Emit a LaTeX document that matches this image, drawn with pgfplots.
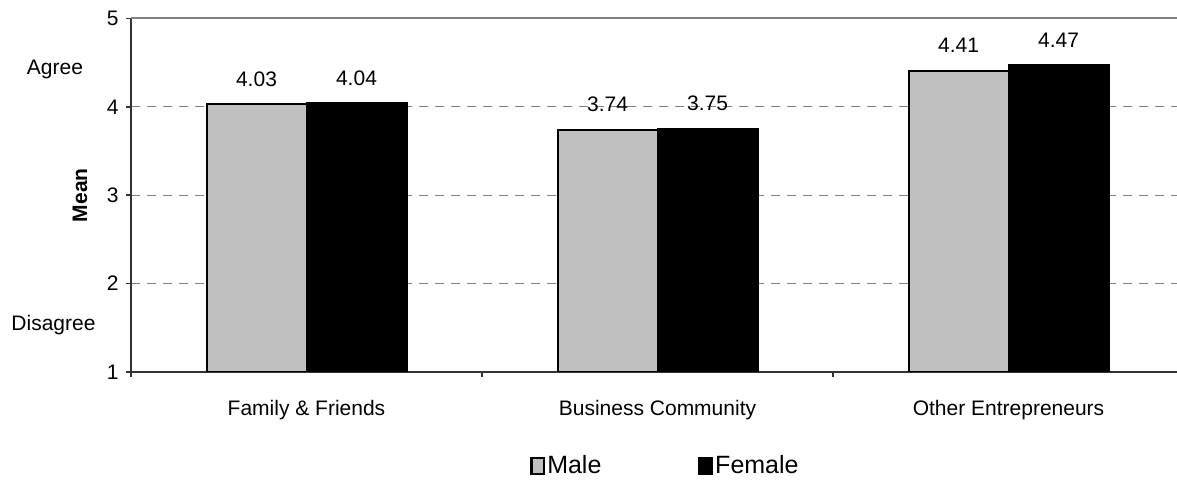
\documentclass[border=0pt]{standalone}
\usepackage{pgfplots}
\pgfplotsset{compat=1.18}
\usepackage{fontspec}
\setmainfont{Liberation Sans}
\definecolor{malegray}{RGB}{192,192,192}
\definecolor{gridgray}{RGB}{128,128,128}
\begin{document}
\fontsize{10.5}{12.6}\selectfont
\begin{tikzpicture}
\begin{axis}[
  scale only axis, width=523pt, height=176.75pt,
  xmin=-0.5, xmax=2.48, ymin=1, ymax=5,
  axis x line*=bottom, axis y line*=left,
  axis line style={black!80, line width=1pt},
  ybar=0pt, bar width=50pt,
  xtick={0,1,2},
  xticklabels={Family \& Friends, Business Community, Other Entrepreneurs},
  major x tick style={draw=none},
  minor xtick={-0.5,0.5,1.5},
  minor x tick style={black!80, line width=0.8pt},
  minor tick length=2.5pt,
  major tick length=2.5pt,
  ytick={1,2,3,4,5},
  y tick style={black!80, line width=0.8pt},
  tick align=outside,
  ymajorgrids,
  major grid style={dash pattern=on 4.5pt off 3.5pt, gridgray, line width=0.6pt},
  xticklabel style={yshift=-8pt},
  /pgf/number format/assume math mode=true,
  ylabel={Mean},
  every axis y label/.style={at={([xshift=-25.5pt]rel axis cs:0,0.5)}, rotate=90, anchor=center, font=\bfseries},
  nodes near coords={\pgfmathprintnumber[fixed,precision=2,fixed zerofill]{\pgfplotspointmeta}},
  every node near coord/.append style={yshift=5pt, black},
  legend columns=2,
  legend style={draw=none, fill=none, inner sep=0pt,
    at={(rel axis cs:0.3815,-0.266)}, anchor=west,
    font=\fontsize{12.5}{15}\selectfont,
    nodes={inner xsep=1pt},
    /tikz/every even column/.append style={column sep=47.5pt}},
  legend image code/.code={\draw[#1, line width=1.2pt] (0.3pt,-3.9pt) rectangle (6.5pt,3.9pt);},
  clip mode=individual,
]
\addplot[fill=malegray, draw=black, line width=1pt] coordinates {(0,4.03) (1,3.74) (2,4.41)};
\addplot[fill=black, draw=black, line width=1pt] coordinates {(0,4.04) (1,3.75) (2,4.47)};
\legend{Male, Female}
\coordinate (bl) at (rel axis cs:0,0);
\coordinate (tr) at (rel axis cs:1,1);
\coordinate (agree) at (axis cs:-0.5,4.42);
\coordinate (disagree) at (axis cs:-0.5,1.53);
\end{axis}
\draw[gridgray, line width=1pt] (bl |- tr) -- (tr);
\node at ([xshift=-38pt]agree) {Agree};
\node at ([xshift=-38.75pt]disagree) {Disagree};
\pgfresetboundingbox
\path[use as bounding box] ([xshift=-65.5pt,yshift=-54pt]bl) rectangle ([yshift=9.25pt]tr);
\end{tikzpicture}
\end{document}
